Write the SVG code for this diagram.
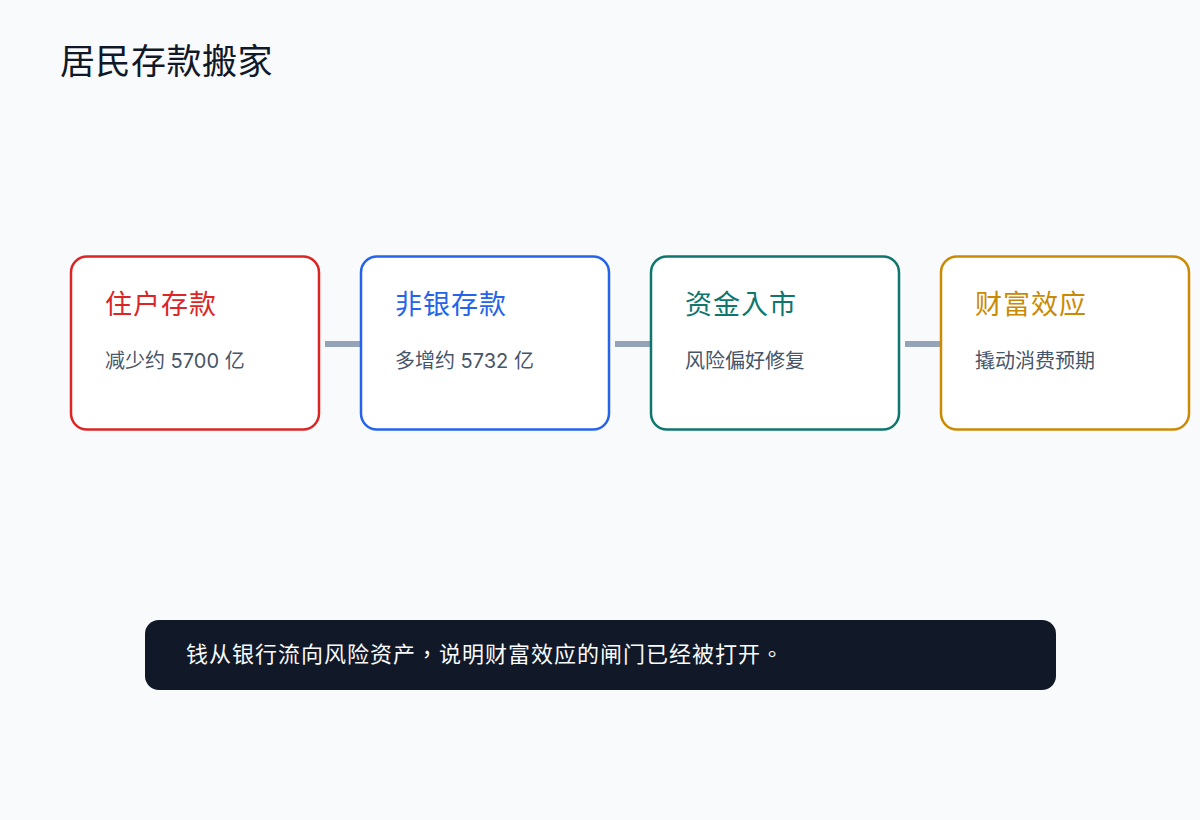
<svg xmlns="http://www.w3.org/2000/svg" width="1200" height="820" viewBox="0 0 1200 820">
<style>
.t{font-family:Inter,"Noto Sans CJK TC",sans-serif}
.card{fill:#ffffff;stroke-width:2.5}
.h{font-size:27px;letter-spacing:1px}
.s{font-size:20px;fill:#475569}
.c{stroke:#94a3b8;stroke-width:6}
</style>
<rect width="1200" height="820" fill="#f8fafc"/>
<text class="t" x="60" y="74" font-size="35" letter-spacing="0.5" fill="#111827">居民存款搬家</text>
<g id="connectors">
<line class="c" x1="325" y1="344" x2="361" y2="344"/>
<line class="c" x1="615" y1="344" x2="651" y2="344"/>
<line class="c" x1="905" y1="344" x2="941" y2="344"/>
</g>
<g id="n1">
<rect class="card" x="71" y="256.5" width="248" height="173" rx="16" stroke="#dc2626"/>
<text class="t h" x="105" y="314" fill="#dc2626">住户存款</text>
<text class="t s" x="105" y="368">减少约 5700 亿</text>
</g>
<g id="n2">
<rect class="card" x="361" y="256.5" width="248" height="173" rx="16" stroke="#2563eb"/>
<text class="t h" x="395" y="314" fill="#2563eb">非银存款</text>
<text class="t s" x="395" y="368">多增约 5732 亿</text>
</g>
<g id="n3">
<rect class="card" x="651" y="256.5" width="248" height="173" rx="16" stroke="#0f766e"/>
<text class="t h" x="685" y="314" fill="#0f766e">资金入市</text>
<text class="t s" x="685" y="368">风险偏好修复</text>
</g>
<g id="n4">
<rect class="card" x="941" y="256.5" width="248" height="173" rx="16" stroke="#ca8a04"/>
<text class="t h" x="975" y="314" fill="#ca8a04">财富效应</text>
<text class="t s" x="975" y="368">撬动消费预期</text>
</g>
<g id="note">
<rect x="145" y="620" width="911" height="70" rx="14" fill="#111827"/>
<text class="t" x="186" y="662" font-size="22" letter-spacing="1" fill="#f8fafc">钱从银行流向风险资产，说明财富效应的闸门已经被打开。</text>
</g>
</svg>
